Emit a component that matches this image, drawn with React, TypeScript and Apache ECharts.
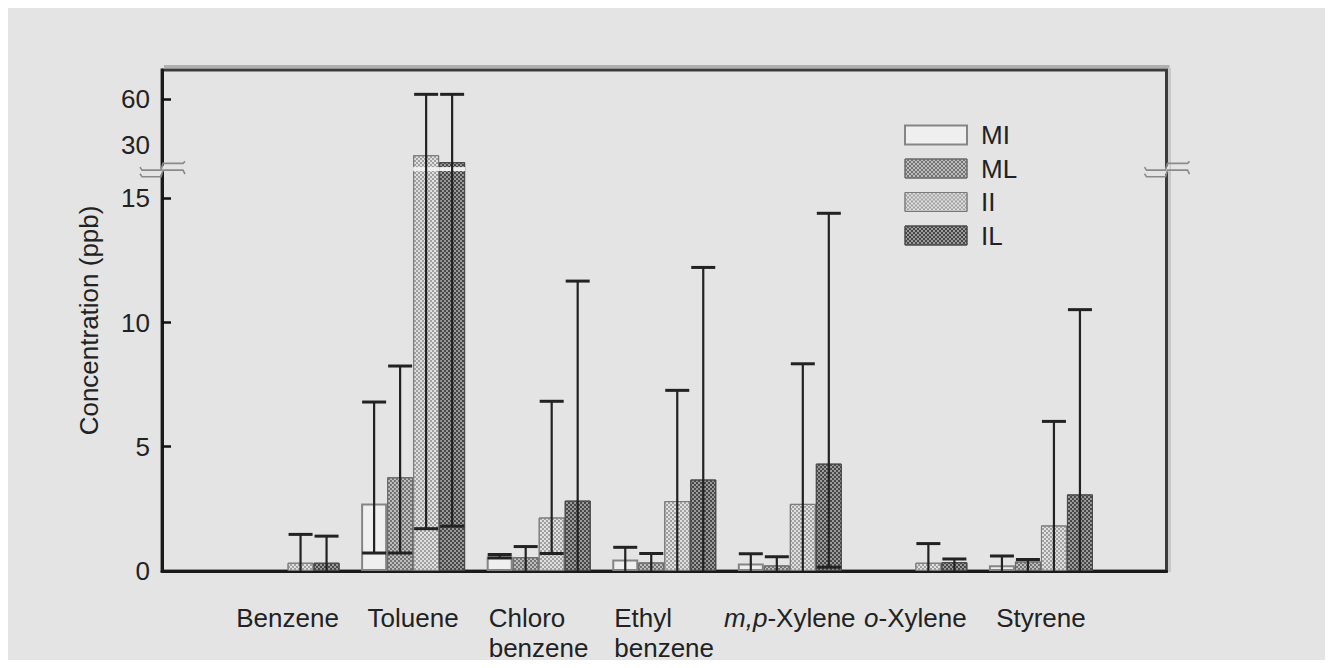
import React, { useEffect, useRef } from 'react';
import * as echarts from 'echarts';

// ---------- data (real concentrations, ppb) ----------
const categories = ['Benzene', 'Toluene', 'Chloro\nbenzene', 'Ethyl\nbenzene', 'm,p-Xylene', 'o-Xylene', 'Styrene'];
const seriesNames = ['MI', 'ML', 'II', 'IL'];

const miMean = [0, 2.71, 0.58, 0.46, 0.30, 0, 0.23];
const miHigh = [0, 6.8, 0.66, 0.95, 0.69, 0, 0.60];
const miLow = [0, 0.72, 0.52, 0, 0, 0, 0];

const mlMean = [0, 3.77, 0.55, 0.34, 0.22, 0, 0.38];
const mlHigh = [0, 8.25, 0.98, 0.70, 0.57, 0, 0.46];
const mlLow = [0, 0.72, 0, 0, 0, 0, 0];

const iiMean = [0.33, 22.9, 2.15, 2.81, 2.70, 0.33, 1.83];
const iiHigh = [1.47, 63.3, 6.83, 7.27, 8.34, 1.10, 6.02];
const iiLow = [0, 1.70, 0.70, 0, 0, 0, 0];

const ilMean = [0.33, 18.3, 2.83, 3.68, 4.32, 0.35, 3.08];
const ilHigh = [1.40, 63.3, 11.67, 12.22, 14.40, 0.48, 10.52];
const ilLow = [0, 1.80, 0, 0, 0.15, 0, 0];

const yTickValues = [0, 5, 10, 15, 30, 60];
const yTickMarks = [5, 10, 15, 60];

// ---------- broken-axis scale ----------
const BREAK_AT = 15; // values above this live in the compressed upper segment
const UPPER_REF = [30, 60];
const UPPER_POS = [17.17, 18.99];
const BREAK_DISPLAY = 16.14;
const Y_MAX = 20.17;
function toDisplay(v: number): number {
  if (v <= BREAK_AT) return v;
  const slope = (UPPER_POS[1] - UPPER_POS[0]) / (UPPER_REF[1] - UPPER_REF[0]);
  return UPPER_POS[0] + (v - UPPER_REF[0]) * slope;
}

// ---------- styles ----------
const BG = '#e4e4e4';
const FONT = 'Liberation Sans, Arial, sans-serif';
const TEXT = '#222';
const BAR_W = 26;
const CAP_W = 24;

const checker = (color: string) => ({
  symbol: 'rect',
  symbolSize: 1,
  color,
  dashArrayX: [[2, 2], [0, 2, 2, 0]],
  dashArrayY: [2, 0],
  rotation: 0,
});

const barStyles: any[] = [
  { color: '#efefef', borderColor: '#858585', borderWidth: 2 },
  { color: '#bdbdbd', borderColor: '#6a6a6a', borderWidth: 1, decal: checker('#737373') },
  { color: '#e0e0e0', borderColor: '#7a7a7a', borderWidth: 1, decal: checker('#a0a0a0') },
  { color: '#9a9a9a', borderColor: '#4a4a4a', borderWidth: 1, decal: checker('#484848') },
];

const means = [miMean, mlMean, iiMean, ilMean];
const highs = [miHigh, mlHigh, iiHigh, ilHigh];
const lows = [miLow, mlLow, iiLow, ilLow];

const xCats = ['', ...categories, ''];

export default function App() {
  const ref = useRef<HTMLDivElement>(null);

  useEffect(() => {
    document.body.style.overflow = 'hidden';
    const el = ref.current as HTMLDivElement;
    const chart = echarts.init(el, null, { renderer: 'svg' });

    const barSeries = seriesNames.map((name, k) => ({
      name,
      type: 'bar',
      barWidth: BAR_W,
      barGap: '0%',
      z: 2,
      itemStyle: barStyles[k],
      data: ['-', ...means[k].map((v) => (v > 0 ? toDisplay(v) : '-')), '-'],
    }));

    const errSeries = seriesNames.map((name, k) => ({
      name: name + ' err',
      type: 'custom',
      z: 6,
      silent: true,
      encode: { x: 0, y: 2 },
      data: categories
        .map((_, i) => [i + 1, toDisplay(lows[k][i]), toDisplay(highs[k][i])])
        .filter((d, i) => highs[k][i] > 0),
      renderItem: (params: any, api: any) => {
        const xi = api.value(0);
        const lo = api.value(1);
        const hi = api.value(2);
        const pTop = api.coord([xi, hi]);
        const pBot = api.coord([xi, lo]);
        const x = pTop[0] + (k - 1.5) * BAR_W;
        const children: any[] = [
          { type: 'line', shape: { x1: x, y1: pTop[1], x2: x, y2: pBot[1] }, style: { stroke: '#222', lineWidth: 2.2 } },
          { type: 'line', shape: { x1: x - CAP_W / 2, y1: pTop[1], x2: x + CAP_W / 2, y2: pTop[1] }, style: { stroke: '#222', lineWidth: 3 } },
        ];
        if (lo > 0) {
          children.push({ type: 'line', shape: { x1: x - CAP_W / 2, y1: pBot[1], x2: x + CAP_W / 2, y2: pBot[1] }, style: { stroke: '#222', lineWidth: 3 } });
        }
        return { type: 'group', children };
      },
    }));

    const gapData: number[][] = [];
    means.forEach((arr, k) => arr.forEach((v, i) => { if (v > BREAK_AT) gapData.push([i + 1, k]); }));
    const gapSeries = {
      name: 'break',
      type: 'custom',
      z: 4,
      silent: true,
      encode: { x: 0 },
      data: gapData,
      renderItem: (params: any, api: any) => {
        const xi = api.value(0);
        const k = api.value(1);
        const p = api.coord([xi, BREAK_DISPLAY]);
        const x = p[0] + (k - 1.5) * BAR_W;
        return { type: 'rect', shape: { x: x - BAR_W / 2, y: p[1] - 3, width: BAR_W, height: 4 }, style: { fill: '#efefef' } };
      },
    };

    const displayTicks = yTickValues.map(toDisplay);

    const option: any = {
      animation: false,
      backgroundColor: BG,
      grid: { left: 154, top: 62, right: 166.5, bottom: 97.1, show: true, borderColor: '#3c3c3c', borderWidth: 3, backgroundColor: 'transparent' },
      legend: {
        orient: 'vertical',
        left: 891,
        top: 109,
        icon: 'rect',
        itemWidth: 62,
        itemHeight: 19,
        itemGap: 7.5,
        selectedMode: false,
        textStyle: { fontSize: 26, fontFamily: FONT, color: TEXT, lineHeight: 26, padding: [0, 0, 0, 9] },
        data: seriesNames.map((n, k) => ({ name: n, itemStyle: barStyles[k] })),
      },
      xAxis: {
        type: 'category',
        boundaryGap: false,
        data: xCats,
        axisTick: { show: false },
        axisLine: { lineStyle: { color: '#1a1a1a', width: 3 } },
        splitLine: { show: false },
        axisLabel: {
          interval: 0,
          margin: 32,
          fontSize: 26,
          fontFamily: FONT,
          color: TEXT,
          lineHeight: 30,
          formatter: (val: string) => {
            if (!val) return '';
            if (val.indexOf('\n') >= 0) return val.split('\n').map((l) => `{l|${l}}`).join('\n');
            const m = val.match(/^(m,p|o)(-Xylene)$/);
            if (m) return `{i|${m[1]}}{n|${m[2]}}`;
            return `{n|${val}}`;
          },
          rich: {
            n: { fontSize: 26, fontFamily: FONT, color: TEXT, lineHeight: 30 },
            i: { fontSize: 26, fontFamily: FONT, color: TEXT, lineHeight: 30, fontStyle: 'italic' },
            l: { fontSize: 26, fontFamily: FONT, color: TEXT, lineHeight: 30, width: 100, align: 'left' },
          },
        },
      },
      yAxis: {
        type: 'value',
        min: 0,
        max: Y_MAX,
        name: 'Concentration (ppb)',
        nameLocation: 'middle',
        nameRotate: 90,
        nameGap: 60,
        nameTextStyle: { fontSize: 26, fontFamily: FONT, color: TEXT },
        splitLine: { show: false },
        axisLine: { show: true, lineStyle: { color: '#1a1a1a', width: 3 } },
        axisTick: { show: true, inside: true, length: 9, customValues: yTickMarks.map(toDisplay), lineStyle: { color: '#111', width: 2.5 } },
        axisLabel: {
          margin: 12,
          fontSize: 26,
          fontFamily: FONT,
          color: TEXT,
          customValues: displayTicks,
          formatter: (v: number) => {
            const idx = displayTicks.findIndex((d) => Math.abs(d - v) < 1e-6);
            return idx >= 0 ? String(yTickValues[idx]) : '';
          },
        },
      },
      series: [...barSeries, gapSeries, ...errSeries],
    };
    chart.setOption(option);

    const yb = chart.convertToPixel({ yAxisIndex: 0 }, BREAK_DISPLAY) as number;
    const yTop = chart.convertToPixel({ yAxisIndex: 0 }, Y_MAX) as number;
    const y0 = chart.convertToPixel({ yAxisIndex: 0 }, 0) as number;
    const xL = chart.convertToPixel({ xAxisIndex: 0 }, 0) as number;
    const xR = chart.convertToPixel({ xAxisIndex: 0 }, xCats.length - 1) as number;

    const breakMark = (x0: number) => {
      const h = 6.7;
      return [
        { type: 'polygon', z: 100, shape: { points: [[x0 - 3, yb + 0.5], [x0 + 3, yb - h + 0.5], [x0 + 3, yb - 0.5], [x0 - 3, yb + h - 0.5]] }, style: { fill: BG } },
        { type: 'polyline', z: 101, shape: { points: [[x0 - 22, yb - 3], [x0 - 20, yb], [x0 - 1, yb], [x0 + 1, yb - h], [x0 + 21, yb - h], [x0 + 23, yb - h - 2]] }, style: { stroke: '#8a8a8a', lineWidth: 1.6, fill: null } },
        { type: 'polyline', z: 101, shape: { points: [[x0 - 22, yb + h - 3], [x0 - 20, yb + h], [x0 - 1, yb + h], [x0 + 1, yb], [x0 + 21, yb], [x0 + 23, yb + 4]] }, style: { stroke: '#8a8a8a', lineWidth: 1.6, fill: null } },
      ];
    };

    chart.setOption({
      graphic: [
        { type: 'line', z: 90, shape: { x1: xL + 2, y1: yTop - 3.5, x2: xR + 3, y2: yTop - 3.5 }, style: { stroke: '#b0b0b0', lineWidth: 3 } },
        { type: 'line', z: 90, shape: { x1: xR + 3, y1: yTop - 2, x2: xR + 3, y2: y0 + 1 }, style: { stroke: '#c8c8c8', lineWidth: 3 } },
        ...breakMark(xL),
        ...breakMark(xR),
      ],
    });

    return () => chart.dispose();
  }, []);

  return <div ref={ref} style={{ width: 1325, height: 660, marginBottom: -8, background: BG }} />;
}
